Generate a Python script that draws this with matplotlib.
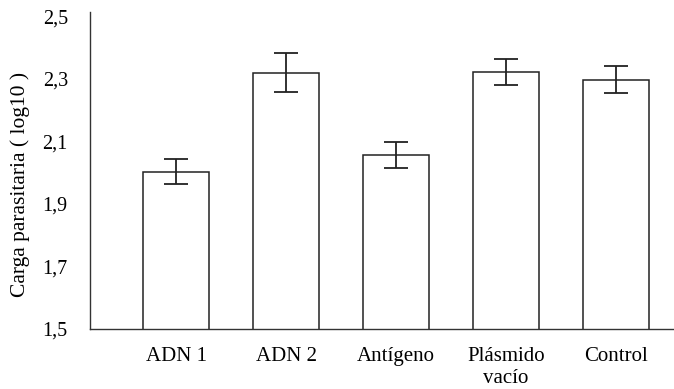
import numpy as np
import matplotlib
matplotlib.use("Agg")
import matplotlib.pyplot as plt

# values
groups = ["ADN 1", "ADN 2", "Antígeno", "Plásmido\nvacío", "Control"]
means  = [2.003, 2.320, 2.056, 2.323, 2.297]
errors = [0.040, 0.063, 0.042, 0.042, 0.043]
yticks = [1.5, 1.7, 1.9, 2.1, 2.3, 2.5]

plt.rcParams["font.family"] = ["Liberation Serif", "DejaVu Serif"]

W, H = 674, 389
fig = plt.figure(figsize=(W / 100, H / 100), dpi=100)
ax = fig.add_axes([90 / W, 1 - 329 / H, 1 - 90 / W, (329 - 12) / H])

x = np.arange(len(groups))
ax.bar(x, means, width=0.6, color="white", edgecolor="#222222",
       linewidth=1.1, zorder=2)
ax.errorbar(x, means, yerr=errors, fmt="none", ecolor="#222222",
            elinewidth=1.3, capsize=8.3, capthick=1.3, zorder=3)

ax.set_ylim(1.5, 2.514)
ax.set_xlim(-0.782, 4.527)
ax.set_yticks(yticks)
ax.set_yticklabels([f"{v:.1f}".replace(".", ",") for v in yticks], fontsize=14.5)
ax.set_xticks(x)
ax.set_xticklabels(groups, fontsize=15, linespacing=1.2)
ax.tick_params(axis="both", length=0)
ax.tick_params(axis="y", pad=16)
ax.tick_params(axis="x", pad=13)

for side in ["top", "right"]:
    ax.spines[side].set_visible(False)
for side in ["left", "bottom"]:
    ax.spines[side].set_color("#333333")
    ax.spines[side].set_linewidth(1.0)

fig.text(20 / W, 1 - 184 / H, "Carga parasitaria ( log10 )",
         rotation=90, ha="center", va="center", fontsize=15.5)

plt.savefig("out.png", dpi=100)
